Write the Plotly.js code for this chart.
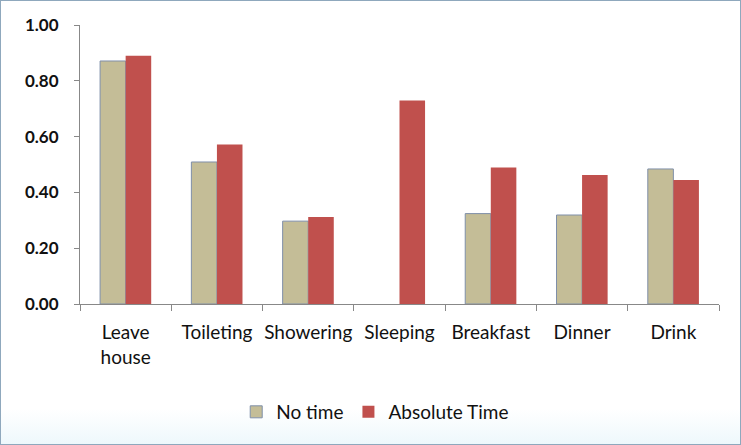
<!DOCTYPE html>
<html>
<head>
<meta charset="utf-8">
<script src="https://cdn.plot.ly/plotly-3.0.1.min.js"></script>
<style>
html,body{margin:0;padding:0;background:#fff;}
#frame{position:absolute;left:0;top:0;width:739px;height:443px;border:1px solid #8fa8bd;box-sizing:content-box;background:linear-gradient(to bottom,#ffffff 0%,#ffffff 92%,#eef8fc 100%);}
#chart{width:739px;height:443px;}
</style>
</head>
<body>
<div id="frame"><div id="chart"></div></div>
<script>
const categories = ["Leave<br>house","Toileting","Showering","Sleeping","Breakfast","Dinner","Drink"];
const seriesNames = ["No time","Absolute Time"];
const noTime = [0.871, 0.509, 0.297, 0, 0.324, 0.319, 0.484];
const absoluteTime = [0.890, 0.572, 0.312, 0.729, 0.489, 0.462, 0.444];
const yTicks = [0, 0.2, 0.4, 0.6, 0.8, 1.0];

const font = "Lato, 'Open Sans', sans-serif";

const traces = [
  {type:"bar", name:seriesNames[0], x:categories, y:noTime,
   marker:{color:"#C4BD97", line:{color:"#7F8FA9", width:noTime.map(v => v > 0 ? 1 : 0)}}},
  {type:"bar", name:seriesNames[1], x:categories, y:absoluteTime,
   marker:{color:"#C0504D", line:{width:0}}}
];

const layout = {
  width:739, height:443,
  margin:{l:79, r:21, t:24, b:140, pad:0},
  paper_bgcolor:"rgba(0,0,0,0)",
  plot_bgcolor:"rgba(0,0,0,0)",
  barmode:"group", bargap:0.44, bargroupgap:0,
  showlegend:true,
  legend:{orientation:"h", x:0.462, xanchor:"center", y:-0.387, yanchor:"middle",
          font:{family:font, size:19, color:"#111"}, itemwidth:30, tracegroupgap:0},
  xaxis:{type:"category", tickson:"boundaries", ticks:"outside", ticklen:6, tickcolor:"#888",
         showline:true, linecolor:"#888", linewidth:1, showgrid:false, zeroline:false,
         tickangle:0, automargin:false,
         tickfont:{family:font, size:19, color:"#111"}, ticklabelstandoff:11},
  yaxis:{range:[0,1], tickvals:yTicks, tickformat:".2f", ticks:"outside", ticklen:5, tickcolor:"#888",
         showline:true, linecolor:"#888", linewidth:1, showgrid:false, zeroline:false,
         tickfont:{family:font, size:17, color:"#111", weight:"bold"}, ticklabelstandoff:12}
};

Plotly.newPlot("chart", traces, layout, {displayModeBar:false, staticPlot:true});
</script>
</body>
</html>
